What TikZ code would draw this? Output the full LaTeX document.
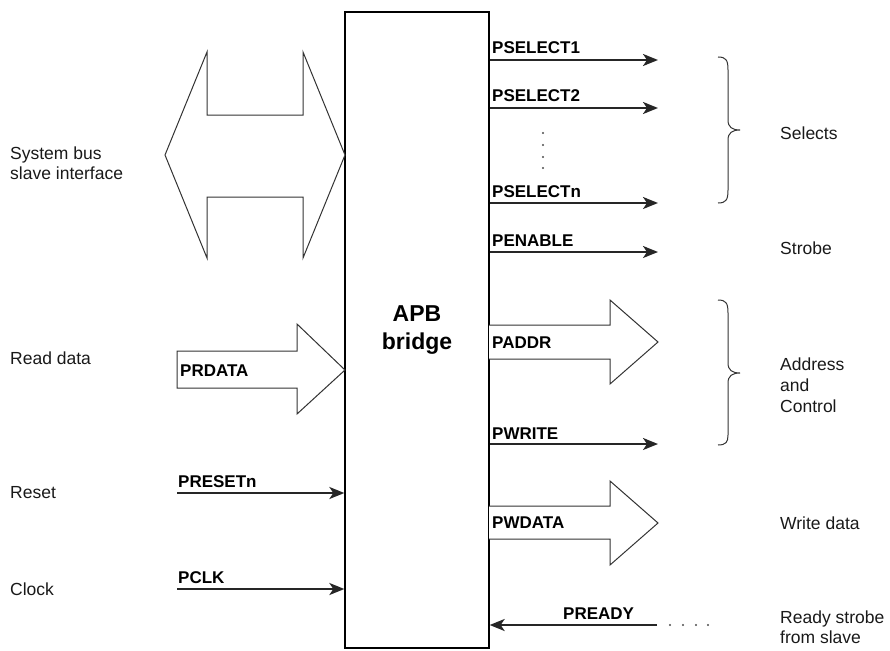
\documentclass[tikz,border=0pt]{standalone}
\usepackage{fontspec}
\setmainfont{Liberation Sans}
\usetikzlibrary{arrows.meta}
\begin{document}
\begin{tikzpicture}[x=1pt,y=-1pt,
  lbl/.style={font=\fontsize{17.5}{20}\selectfont, inner sep=0pt, anchor=west, align=left, text=black!90},
  sig/.style={font=\bfseries\fontsize{17}{18}\selectfont, inner sep=0pt, anchor=base west},
  wire/.style={line width=2.2pt, draw=black!85, -{Stealth[length=15pt,width=12pt,inset=4pt]}},
  fat/.style={draw=black!80, line width=1pt, fill=white, line join=miter},
  brc/.style={draw=black!80, line width=1pt},
  dotc/.style={fill=black!70, draw=none}
]
\useasboundingbox (0,0) rectangle (890,650);

% main block
\node[draw, line width=1.3pt, minimum width=144pt, minimum height=636pt, inner sep=0pt] (apb) at (417,330) {};
\node[font=\bfseries\fontsize{23}{28}\selectfont, align=center, inner sep=0pt] (apbt) at (apb.center) {APB\\bridge};

% left double arrow (system bus)
\draw[fat] (165,155) -- (207,52) -- (207,115) -- (303,115) -- (303,52) -- (345,155) -- (303,258) -- (303,197) -- (207,197) -- (207,258) -- cycle;
\node[lbl] (sysbus) at (10,163) {System bus\\slave interface};

% PRDATA fat arrow
\draw[fat] (177,351) -- (297,351) -- (297,324) -- (345,370) -- (297,414) -- (297,388) -- (177,388) -- cycle;
\node[sig, anchor=west] (prdata) at (180,371) {PRDATA};
\node[lbl] (readdata) at (10,358) {Read data};

% PRESETn, PCLK
\coordinate (rstin) at (177,493);
\coordinate (clkin) at (177,589);
\draw[wire] (rstin) -- (rstin -| apb.west);
\draw[wire] (clkin) -- (clkin -| apb.west);
\node[sig] (presetn) at (178,487) {PRESETn};
\node[sig] (pclk) at (178,583) {PCLK};
\node[lbl] (reset) at (10,493) {Reset};
\node[lbl] (clock) at (10,589) {Clock};

% right outputs
\coordinate (s1) at (658,60);
\coordinate (s2) at (658,108);
\coordinate (sn) at (658,203);
\coordinate (pen) at (658,252);
\coordinate (pwr) at (658,444);
\draw[wire] (s1 -| apb.east) -- (s1);
\draw[wire] (s2 -| apb.east) -- (s2);
\draw[wire] (sn -| apb.east) -- (sn);
\draw[wire] (pen -| apb.east) -- (pen);
\draw[wire] (pwr -| apb.east) -- (pwr);
\node[sig] (ps1) at (492,54) {PSELECT1};
\node[sig] (ps2) at (492,102) {PSELECT2};
\node[sig] (psn) at (492,197) {PSELECTn};
\node[sig] (pena) at (492,246) {PENABLE};
\node[sig] (pwrite) at (492,439) {PWRITE};

% vertical dots
\foreach \yy in {133,145,157,168} \fill[dotc] (543,\yy) circle (1.2pt);

% PADDR fat arrow
\draw[fat] (489,325) -- (610,325) -- (610,300) -- (658,342) -- (610,384) -- (610,359) -- (489,359);
\node[sig, anchor=west] (paddr) at (492,343) {PADDR};

% PWDATA fat arrow
\draw[fat] (489,506) -- (610,506) -- (610,481) -- (658,523) -- (610,565) -- (610,539) -- (489,539);
\node[sig, anchor=west] (pwdata) at (492,523) {PWDATA};

% PREADY
\coordinate (rdy) at (657,625);
\draw[wire] (rdy) -- (rdy -| apb.east);
\node[sig] (pready) at (563,619) {PREADY};
\foreach \xx in {670,683,696,708} \fill[dotc] (\xx,625) circle (1.1pt);

% braces
\draw[brc] (718,57) .. controls (726,57) and (728,60) .. (728,70) -- (728,120) .. controls (728,127) and (732,130) .. (740,130) .. controls (732,130) and (728,133) .. (728,140) -- (728,190) .. controls (728,200) and (726,203) .. (718,203);
\draw[brc] (718,300) .. controls (726,300) and (728,303) .. (728,313) -- (728,363) .. controls (728,370) and (732,373) .. (740,373) .. controls (732,373) and (728,376) .. (728,383) -- (728,435) .. controls (728,442) and (726,445) .. (718,445);

% right labels
\node[lbl] (selects) at (780,133) {Selects};
\node[lbl] (strobe) at (780,248) {Strobe};
\node[lbl, font=\fontsize{17.5}{21}\selectfont] (addr) at (780,385) {Address\\and\\Control};
\node[lbl] (wdata) at (780,523) {Write data};
\node[lbl] (ready) at (780,627) {Ready strobe\\from slave};
\end{tikzpicture}
\end{document}
